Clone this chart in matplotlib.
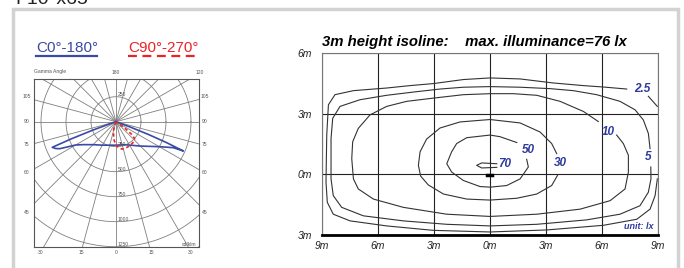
import numpy as np
import matplotlib.pyplot as plt
from matplotlib.lines import Line2D
from matplotlib.patches import Rectangle

plt.rcParams['font.family'] = ['Liberation Sans', 'DejaVu Sans']

W, H = 684, 268

# -----------------------------
# Polar intensity curves (signed gamma in degrees, cd/klm)
# negative gamma = C180 / C270 half
# -----------------------------
c0_gamma = [-72, -71, -70, -69, -68.1, -66, -64.3, -60, -55, -45, -30, 0,
            20, 30, 44.6, 60.4, 65.6, 66.5, 67.5, 68.5, 69.5, 70.5]
c0_cd = [0, 60, 250, 480, 687, 660, 622, 466, 400, 325, 271, 235,
         245, 270, 342, 506, 629, 734, 550, 350, 150, 0]

c90_gamma = [-30, -20, -15, -6, 0, 6, 12, 20, 30, 42, 48, 51, 54, 57]
c90_cd = [0, 50, 104, 184, 235, 262, 280, 280, 278, 268, 250, 200, 110, 0]

ring_values = [250, 500, 750, 1000, 1250, 1500]
spoke_angles = np.arange(0, 360, 15)

# angle labels around the polar box (text, x, y in cd/klm units)
angle_labels = ["105", "90", "75", "60", "45"]
angle_label_y = [257, 0, -233, -513, -903]
bottom_labels = ["30", "15", "0", "15", "30"]
bottom_label_x = [-750, -350, 0, 350, 750]

# -----------------------------
# Isolux lines, 3 m mounting height (metres)
# -----------------------------
iso_2p5_x = [7.34, 6.09, 5.02, 3.41, 1.63, 0.02, -1.41, -3.02, -4.27, -5.52, -7.30,
             -8.29, -8.64, -8.73, -8.77, -8.70, -8.38, -7.48, -5.52, -3.02, 0.02,
             3.05, 6.09, 7.88, 8.59, 8.86, 8.98]
iso_2p5_y = [4.23, 4.33, 4.40, 4.53, 4.73, 4.78, 4.70, 4.50, 4.40, 4.28, 4.15,
             3.95, 3.45, 1.95, -0.38, -1.38, -1.97, -2.30, -2.55, -2.77, -2.85,
             -2.75, -2.52, -2.22, -1.72, -1.05, -0.22]
iso_2p5b_x = [8.50, 8.98]
iso_2p5b_y = [3.87, 3.37]

iso_5_x = [8.59, 8.50, 8.23, 7.79, 6.98, 5.73, 4.48, 3.23, 1.63, 0.02, -1.41, -2.66,
           -4.09, -5.52, -6.95, -8.02, -8.41, -8.50, -8.50, -8.38, -7.93, -6.77,
           -4.63, -2.30, 0.02, 2.52, 5.20, 6.98, 8.05, 8.50, 8.64, 8.63]
iso_5_y = [1.28, 2.03, 2.70, 3.20, 3.62, 3.95, 4.15, 4.25, 4.32, 4.35, 4.32, 4.23,
           4.08, 3.92, 3.70, 3.37, 2.78, 1.78, -0.22, -1.05, -1.63, -2.05,
           -2.30, -2.47, -2.55, -2.47, -2.25, -1.97, -1.55, -0.88, -0.22, 0.37]

iso_10_x = [5.82, 5.02, 3.77, 2.52, 1.27, 0.02, -1.41, -3.02, -4.45, -5.52, -6.41,
            -7.04, -7.34, -7.39, -7.30, -7.04, -6.23, -4.63, -2.30, 0.02, 2.52,
            4.84, 6.45, 7.25, 7.43, 7.43, 7.16, 6.80]
iso_10_y = [2.62, 3.12, 3.62, 3.92, 4.00, 4.00, 3.95, 3.78, 3.62, 3.37, 2.95,
            2.28, 1.62, 0.78, -0.22, -0.72, -1.22, -1.63, -1.97, -2.08, -1.97,
            -1.72, -1.30, -0.72, 0.12, 0.95, 1.53, 1.95]

iso_30_x = [3.59, 3.32, 2.70, 1.63, 0.02, -1.59, -2.66, -3.38, -3.73, -3.82, -3.70,
            -3.29, -2.48, -1.23, 0.02, 1.45, 2.52, 3.32, 3.63]
iso_30_y = [1.03, 1.53, 2.10, 2.55, 2.72, 2.60, 2.30, 1.75, 1.12, 0.45, -0.08,
            -0.52, -0.97, -1.22, -1.27, -1.18, -0.97, -0.55, -0.05]

iso_50_x = [1.45, 0.55, 0.02, -1.23, -1.77, -2.04, -2.30, -2.04, -1.41, -0.52,
            0.02, 0.91, 1.63, 2.07, 1.98]
iso_50_y = [1.58, 1.87, 1.95, 1.82, 1.53, 1.12, 0.53, 0.12, -0.30, -0.60,
            -0.63, -0.55, -0.22, 0.37, 0.75]

iso_70_x = [0.38, -0.43, -0.70, -0.43, 0.38]
iso_70_y = [0.53, 0.57, 0.45, 0.32, 0.35]

lamp_x = [-0.15, 0.15]
lamp_y = [-0.05, -0.05]

iso_labels = ["2.5", "10", "5", "30", "50", "70"]
iso_label_x = [8.18, 6.36, 8.50, 3.80, 2.07, 0.79]
iso_label_y = [4.23, 2.12, 0.87, 0.55, 1.22, 0.53]

x_ticks = [-9, -6, -3, 0, 3, 6, 9]
x_tick_labels = ["9m", "6m", "3m", "0m", "3m", "6m", "9m"]
y_ticks = [-3, 0, 3, 6]
y_tick_labels = ["3m", "0m", "3m", "6m"]

blue = "#3b4aa6"
red = "#ec2227"
label_blue = "#2e3a9c"


def fx(px):
    return px / W


def fy(py):
    return 1 - py / H


fig = plt.figure(figsize=(W / 100, H / 100), dpi=100)

# frame around the whole sheet
fig.add_artist(Rectangle((fx(13), fy(320)), (678 - 13) / W, (320 - 9) / H,
                         transform=fig.transFigure, fill=False,
                         ec="#d2d2d2", lw=2.5))
fig.text(fx(15), fy(4), "F10°x65", fontsize=14, color="#222", va="baseline")

# -----------------------------
# Left: polar light distribution
# -----------------------------
ax1 = fig.add_axes([fx(33.5), fy(246.7), 165.5 / W, 167.7 / H])
ax1.set_xlim(-825, 830)
ax1.set_ylim(-1250, 427)
ax1.set_xticks([])
ax1.set_yticks([])
for s in ax1.spines.values():
    s.set_color("#555")
    s.set_linewidth(0.8)

t = np.linspace(0, 2 * np.pi, 361)
for r in ring_values:
    ax1.plot(r * np.cos(t), r * np.sin(t), color="#7f7f7f", lw=0.6)
for a in spoke_angles:
    ar = np.radians(a)
    ax1.plot([0, 2500 * np.sin(ar)], [0, -2500 * np.cos(ar)], color="#7f7f7f", lw=0.6)

g = np.radians(c0_gamma)
ax1.plot(np.array(c0_cd) * np.sin(g), -np.array(c0_cd) * np.cos(g), color=blue, lw=1.2)
g = np.radians(c90_gamma)
ax1.plot(np.array(c90_cd) * np.sin(g), -np.array(c90_cd) * np.cos(g), color=red,
         lw=1.2, ls=(0, (2, 1.6)))

small = dict(fontsize=3.6, color="#555")
for lab, y in zip(angle_labels, angle_label_y):
    ax1.text(-890, y, lab, ha="center", va="center", clip_on=False, **small)
    ax1.text(890, y, lab, ha="center", va="center", clip_on=False, **small)
for lab, x in zip(bottom_labels, bottom_label_x):
    ax1.text(x, -1313, lab, ha="center", va="center", clip_on=False, **small)
ax1.text(0, 497, "180", ha="center", va="center", clip_on=False, **small)
ax1.text(840, 497, "120", ha="center", va="center", clip_on=False, **small)
ax1.text(-820, 497, "Gamma Angle", ha="left", va="center", clip_on=False, **small)
ax1.text(15, 250, "250", ha="left", va="bottom", **small)
for r in ring_values[:5]:
    ax1.text(15, -r, str(r), ha="left", va="bottom", **small)
ax1.text(800, -1250, "cd/klm", ha="right", va="bottom", **small)

# legend
fig.text(fx(36), fy(48), "C0°-180°", fontsize=11, color=blue, va="center")
fig.add_artist(Line2D([fx(36), fx(97)], [fy(55.5)] * 2, color=blue, lw=1.6))
fig.text(fx(128), fy(48), "C90°-270°", fontsize=11, color=red, va="center")
fig.add_artist(Line2D([fx(128), fx(196)], [fy(55.5)] * 2, color=red, lw=1.6,
                      ls=(0, (4, 2.5))))

# -----------------------------
# Right: isolux diagram
# -----------------------------
ax2 = fig.add_axes([fx(321.7), fy(235), 336 / W, 181.7 / H])
ax2.set_xlim(-9, 9)
ax2.set_ylim(-3, 6)
ax2.set_xticks(x_ticks, x_tick_labels, fontsize=7.5, style="italic")
ax2.set_yticks(y_ticks, y_tick_labels, fontsize=7.5, style="italic")
ax2.tick_params(length=0, pad=4, colors="#222")
ax2.tick_params(axis="y", pad=7)
ax2.grid(color="#222", lw=0.8)
for side in ["left", "top", "right"]:
    ax2.spines[side].set_color("#777")
    ax2.spines[side].set_linewidth(0.8)
ax2.spines["bottom"].set_color("black")
ax2.spines["bottom"].set_linewidth(2)

for xs, ys in [(iso_2p5_x, iso_2p5_y), (iso_2p5b_x, iso_2p5b_y), (iso_5_x, iso_5_y),
               (iso_10_x, iso_10_y), (iso_30_x, iso_30_y), (iso_50_x, iso_50_y),
               (iso_70_x, iso_70_y)]:
    ax2.plot(xs, ys, color="#333", lw=0.8)
ax2.plot(lamp_x, lamp_y, color="black", lw=2.5)

for lab, x, y in zip(iso_labels, iso_label_x, iso_label_y):
    ax2.text(x, y, lab, ha="center", va="center", fontsize=8.5,
             fontweight="bold", style="italic", color=label_blue)
ax2.text(8.0, -2.6, "unit: lx", ha="center", va="center", fontsize=6.5,
         fontweight="bold", style="italic", color=label_blue)

fig.text(fx(321.7), fy(41.7), "3m height isoline:    max. illuminance=76 lx",
         fontsize=10.7, fontweight="bold", style="italic", va="center")

fig.savefig("out.png", dpi=100)
